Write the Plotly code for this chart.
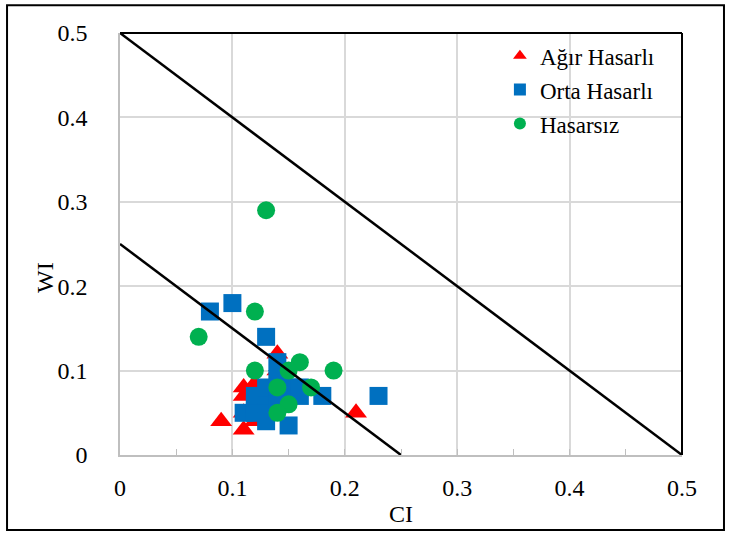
import plotly.graph_objects as go

# Data
agir_ci = [0.09, 0.11, 0.21, 0.11, 0.11, 0.12, 0.14, 0.14, 0.12, 0.13, 0.11, 0.12]
agir_wi = [0.04, 0.03, 0.05, 0.08, 0.07, 0.085, 0.12, 0.10, 0.04, 0.06, 0.05, 0.05]

orta_ci = [0.08, 0.10, 0.13, 0.14, 0.11, 0.12, 0.12, 0.12, 0.13, 0.13, 0.13, 0.13,
           0.14, 0.14, 0.15, 0.15, 0.16, 0.16, 0.18, 0.23, 0.14]
orta_wi = [0.17, 0.18, 0.14, 0.11, 0.05, 0.05, 0.06, 0.07, 0.04, 0.05, 0.07, 0.08,
           0.07, 0.09, 0.08, 0.035, 0.08, 0.07, 0.07, 0.07, 0.06]

hasarsiz_ci = [0.13, 0.07, 0.12, 0.12, 0.16, 0.15, 0.19, 0.14, 0.17, 0.15, 0.14]
hasarsiz_wi = [0.29, 0.14, 0.17, 0.10, 0.11, 0.10, 0.10, 0.08, 0.08, 0.06, 0.05]

line1_ci = [0, 0.5]
line1_wi = [0.5, 0]
line2_ci = [0, 0.25]
line2_wi = [0.25, 0]

tick_vals = [0, 0.1, 0.2, 0.3, 0.4, 0.5]
tick_text = ["0", "0.1", "0.2", "0.3", "0.4", "0.5"]
minor_vals = [0.05, 0.15, 0.25, 0.35, 0.45]

FONT = "Liberation Serif"

fig = go.Figure()
fig.add_trace(go.Scatter(x=agir_ci, y=agir_wi, mode="markers", name="Ağır Hasarlı",
                         legendgroup="a",
                         marker=dict(symbol="triangle-up", size=19, color="#ff0000")))
fig.add_trace(go.Scatter(x=orta_ci, y=orta_wi, mode="markers", name="Orta Hasarlı",
                         legendgroup="b",
                         marker=dict(symbol="square", size=18, color="#0070c0")))
fig.add_trace(go.Scatter(x=hasarsiz_ci, y=hasarsiz_wi, mode="markers", name="Hasarsız",
                         legendgroup="c",
                         marker=dict(symbol="circle", size=18, color="#00b050")))
fig.add_trace(go.Scatter(x=line1_ci, y=line1_wi, mode="lines",
                         line=dict(color="black", width=2.5), showlegend=False, hoverinfo="skip"))
fig.add_trace(go.Scatter(x=line2_ci, y=line2_wi, mode="lines",
                         line=dict(color="black", width=2.5), showlegend=False, hoverinfo="skip"))

fig.update_layout(
    width=731, height=536,
    margin=dict(l=120, r=49, t=33, b=81, autoexpand=False),
    paper_bgcolor="white", plot_bgcolor="white",
    font=dict(family=FONT, size=24, color="black"),
    showlegend=True,
    legend=dict(x=0.676, y=0.997, xanchor="left", yanchor="top",
                font=dict(family=FONT, size=23, color="black"),
                bgcolor="rgba(255,255,255,0)", tracegroupgap=1,
                traceorder="grouped", itemsizing="constant", itemwidth=30),
    xaxis=dict(range=[0, 0.5], tickvals=tick_vals, ticktext=tick_text, automargin=False,
               showgrid=True, gridcolor="#d9d9d9", gridwidth=2,
               showline=True, linecolor="#bfbfbf", linewidth=1.5,
               ticks="inside", ticklen=6, tickcolor="#bfbfbf",
               minor=dict(ticks="inside", tickvals=minor_vals,
                          ticklen=6, tickcolor="#bfbfbf", showgrid=False),
               ticklabelstandoff=10,
               tickfont=dict(family=FONT, size=24),
               title=dict(text="CI", font=dict(family=FONT, size=24), standoff=6),
               zeroline=False),
    yaxis=dict(range=[0, 0.5], tickvals=tick_vals, ticktext=tick_text, automargin=False,
               showgrid=True, gridcolor="#d9d9d9", gridwidth=2,
               showline=True, linecolor="#bfbfbf", linewidth=1.5,
               ticks="", ticklabelstandoff=26,
               tickfont=dict(family=FONT, size=24),
               zeroline=False),
    annotations=[
        dict(text="WI", xref="paper", yref="paper", x=-0.1335, y=0.422,
             xanchor="center", yanchor="middle", textangle=-90, showarrow=False,
             font=dict(family=FONT, size=24, color="black")),
    ],
    shapes=[
        dict(type="line", xref="paper", yref="paper", x0=0, x1=1, y0=1, y1=1,
             line=dict(color="black", width=2)),
        dict(type="line", xref="paper", yref="paper", x0=1, x1=1, y0=0, y1=1,
             line=dict(color="black", width=2)),
        dict(type="rect", xref="paper", yref="paper", x0=-0.201, x1=1.0747, y0=-0.178, y1=1.066,
             line=dict(color="black", width=2)),
    ],
)

fig.write_html("out.html", config={"displayModeBar": False},
               post_script="document.body.style.margin='0';")
